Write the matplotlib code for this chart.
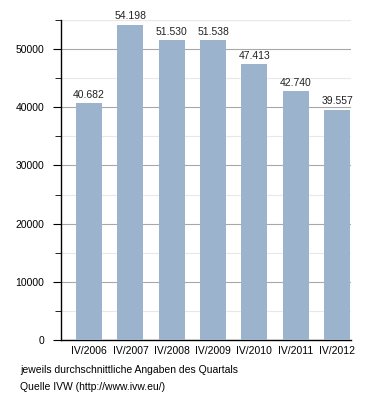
import matplotlib.pyplot as plt
from matplotlib.ticker import MultipleLocator

plt.rcParams["font.family"] = ["Liberation Sans", "DejaVu Sans"]

# Daten
quartale = ["IV/2006", "IV/2007", "IV/2008", "IV/2009", "IV/2010", "IV/2011", "IV/2012"]
auflage = [40682, 54198, 51530, 51538, 47413, 42740, 39557]
beschriftung = ["40.682", "54.198", "51.530", "51.538", "47.413", "42.740", "39.557"]

fig = plt.figure(figsize=(3.8, 4.0), dpi=100)
ax = fig.add_axes([0.1605, 0.15, 0.7635, 0.80])

x = range(len(quartale))
bars = ax.bar(x, auflage, width=0.63, color="#9bb3cc", zorder=3)

for b, txt in zip(bars, beschriftung):
    ax.text(b.get_x() + b.get_width() / 2, b.get_height() + 600, txt,
            ha="center", va="bottom", fontsize=7.5, color="#222222")

ax.set_xlim(-0.68, 6.34)
ax.set_ylim(0, 55000)
ax.set_xticks(list(x))
ax.set_xticklabels(quartale, fontsize=7.5)
ax.tick_params(axis="x", length=0, pad=4)

ax.yaxis.set_major_locator(MultipleLocator(10000))
ax.yaxis.set_minor_locator(MultipleLocator(5000))
ax.tick_params(axis="y", which="major", length=6, labelsize=7.5, pad=6)
ax.tick_params(axis="y", which="minor", length=4)

ax.grid(axis="y", which="major", color="#a8a8a8", linewidth=0.8, zorder=0)
ax.grid(axis="y", which="minor", color="#e8e8e8", linewidth=0.8, zorder=0)
ax.axhline(55000, color="#e8e8e8", linewidth=0.8, zorder=0)

for s in ["top", "right"]:
    ax.spines[s].set_visible(False)
ax.spines["left"].set_linewidth(1.0)
ax.spines["bottom"].set_linewidth(1.0)

fig.text(20 / 380, 1 - 370 / 400, "jeweils durchschnittliche Angaben des Quartals",
         fontsize=7.5, va="center")
fig.text(20 / 380, 1 - 387 / 400, "Quelle IVW (http://www.ivw.eu/)",
         fontsize=7.5, va="center")

fig.savefig("out.png", dpi=100)
plt.close(fig)
